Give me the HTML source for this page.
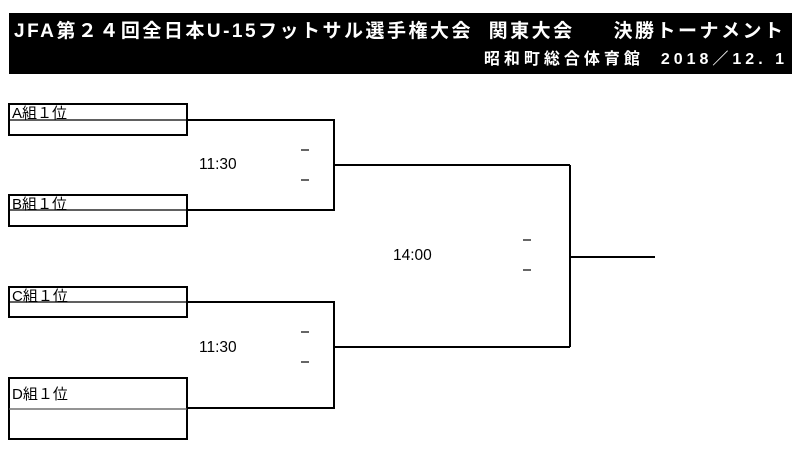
<!DOCTYPE html>
<html><head><meta charset="utf-8"><style>
body{margin:0;background:#fff;width:800px;height:453px;overflow:hidden;position:relative;font-family:"Liberation Sans","Noto Sans CJK JP",sans-serif}
.hdr{position:absolute;left:9px;top:13px;width:783px;height:61px;background:#000;color:#fff;font-weight:bold}
.t1{position:absolute;left:5px;top:3px;font-size:19px;white-space:pre;letter-spacing:2.5px}
.t2{position:absolute;right:4px;top:32px;font-size:16px;white-space:pre;letter-spacing:4px}
.lbl{position:absolute;font-size:15px;color:#000;white-space:pre}
.tm{position:absolute;font-size:15.5px;color:#000;white-space:pre}
</style></head><body>
<div class="hdr"><div class="t1">JFA第２４回全日本U-15フットサル選手権大会  関東大会     決勝トーナメント</div><div class="t2">昭和町総合体育館  2018／12. 1</div></div>
<svg width="800" height="453" style="position:absolute;left:0;top:0" fill="none" stroke="#000">
<g stroke-width="2">
<rect x="9" y="104" width="178" height="31"/>
<rect x="9" y="195" width="178" height="31"/>
<rect x="9" y="287" width="178" height="30"/>
<rect x="9" y="378" width="178" height="61"/>
<polyline points="187,120 334,120 334,210 187,210"/>
<polyline points="187,302 334,302 334,408 187,408"/>
<line x1="334" y1="165" x2="570" y2="165"/>
<line x1="334" y1="347" x2="570" y2="347"/>
<line x1="570" y1="165" x2="570" y2="347"/>
<line x1="570" y1="257" x2="655" y2="257"/>
</g>
<g stroke-width="1.2">
<line x1="9" y1="120" x2="187" y2="120"/>
<line x1="9" y1="210" x2="187" y2="210"/>
<line x1="9" y1="302" x2="187" y2="302"/>
<line x1="9" y1="409" x2="187" y2="409" stroke="#555"/>
<line x1="301" y1="150" x2="309" y2="150"/><line x1="301" y1="180" x2="309" y2="180"/>
<line x1="301" y1="332" x2="309" y2="332"/><line x1="301" y1="362" x2="309" y2="362"/>
<line x1="523" y1="240" x2="531" y2="240"/><line x1="523" y1="270" x2="531" y2="270"/>
</g>
</svg>
<div class="lbl" style="left:12px;top:102px">A組１位</div>
<div class="lbl" style="left:12px;top:193px">B組１位</div>
<div class="lbl" style="left:12px;top:285px">C組１位</div>
<div class="lbl" style="left:12px;top:383px">D組１位</div>
<div class="tm" style="left:199px;top:156px">11:30</div>
<div class="tm" style="left:199px;top:339px">11:30</div>
<div class="tm" style="left:393px;top:247px">14:00</div>
</body></html>
